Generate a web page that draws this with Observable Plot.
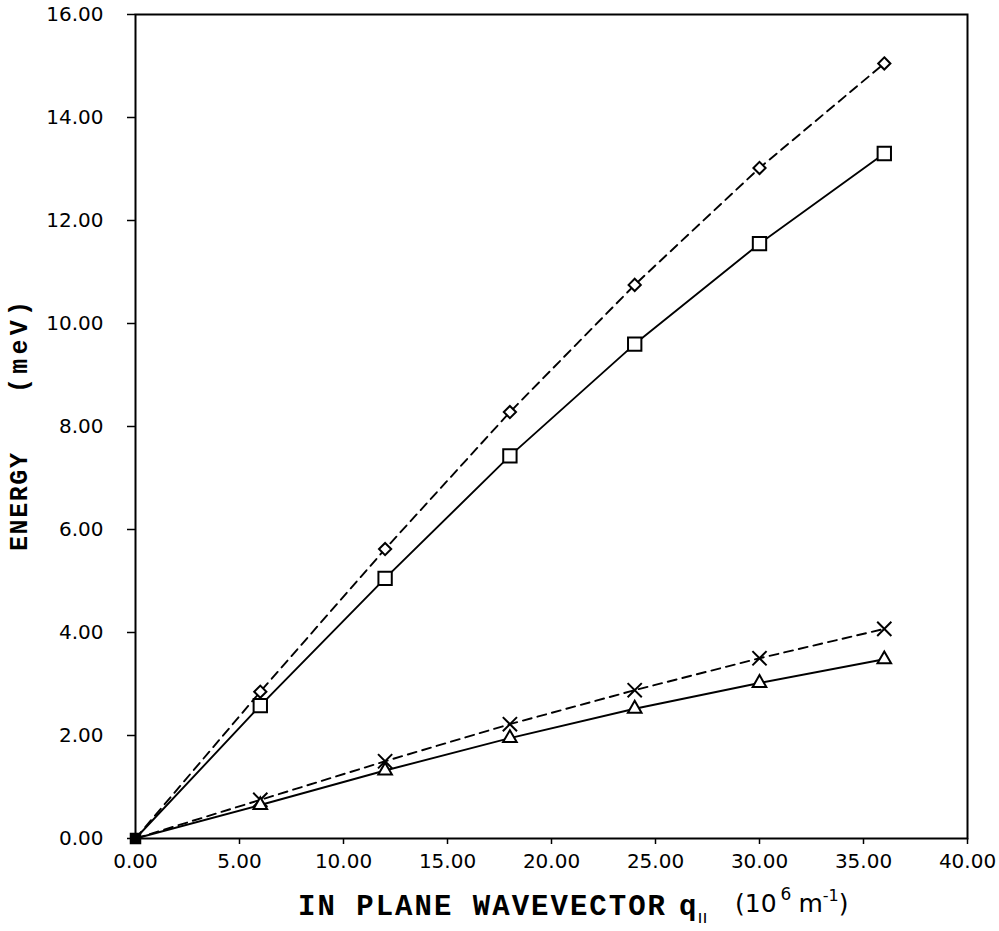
<!DOCTYPE html>
<html><head><meta charset="utf-8">
<script src="https://cdn.jsdelivr.net/npm/d3@7"></script>
<script src="https://cdn.jsdelivr.net/npm/@observablehq/plot@0.6"></script>
<style>body{margin:0;background:#fff}</style>
</head><body><div id="chart"></div>
<script>
const q = [0, 6, 12, 18, 24, 30, 36];
const eDiamond = [0, 2.85, 5.62, 8.28, 10.75, 13.02, 15.05];
const eSquare = [0, 2.58, 5.05, 7.43, 9.6, 11.55, 13.3];
const eCross = [0, 0.75, 1.5, 2.22, 2.88, 3.5, 4.07];
const eTriangle = [0, 0.65, 1.32, 1.95, 2.52, 3.02, 3.48];
const xTicks = [0, 5, 10, 15, 20, 25, 30, 35, 40];
const yTicks = [0, 2, 4, 6, 8, 10, 12, 14, 16];

const series = [
  {name: "diamond", e: eDiamond, dash: "9,6", symbol: "diamond2", r: 5.5},
  {name: "square", e: eSquare, dash: null, symbol: "square2", r: 8.5},
  {name: "cross", e: eCross, dash: "9,6", symbol: "times", r: 6.5},
  {name: "triangle", e: eTriangle, dash: null, symbol: "triangle2", r: 6.5}
];
const rows = s => q.map((x, i) => ({x, y: s.e[i]}));

const marks = [Plot.frame({stroke: "black", strokeWidth: 2})];
for (const s of series) {
  marks.push(Plot.line(rows(s), {x: "x", y: "y", stroke: "black", strokeWidth: 1.9, strokeDasharray: s.dash || undefined}));
  marks.push(Plot.dot(rows(s).slice(1), {x: "x", y: "y", symbol: s.symbol, r: s.r, stroke: "black", strokeWidth: 2, fill: "white"}));
}
marks.push(Plot.dot([{x: 0, y: 0}], {x: "x", y: "y", symbol: "square", r: 6.5, fill: "black"}));

const fmt = d3.format(".2f");
const chart = Plot.plot({
  width: 999, height: 931,
  marginLeft: 135, marginRight: 32, marginTop: 14, marginBottom: 93,
  style: {background: "white", color: "black"},
  x: {domain: [0, 40]},
  y: {domain: [0, 16]},
  marks: [
    Plot.axisX({ticks: xTicks, tickFormat: fmt, tickSize: 6, tickPadding: 9, label: null, strokeWidth: 1.5}),
    Plot.axisY({ticks: yTicks, tickFormat: fmt, tickSize: 8, tickPadding: 24, label: null, strokeWidth: 1.5}),
    ...marks
  ]
});
document.getElementById("chart").appendChild(chart);

const svg = d3.select(chart);
svg.selectAll('g[aria-label$="tick label"]')
  .style("font-family", "'DejaVu Sans', sans-serif").style("font-size", "20px");

const mono = "'Liberation Mono', 'DejaVu Sans Mono', monospace";
svg.append("text").attr("x", 298).attr("y", 915).attr("text-anchor", "start")
  .attr("font-family", mono).attr("font-weight", "bold")
  .attr("font-size", 29).attr("fill", "black")
  .attr("textLength", 367).attr("lengthAdjust", "spacing").text("IN PLANE WAVEVECTOR");
const qt = svg.append("text").attr("x", 679).attr("y", 915).attr("text-anchor", "start")
  .attr("font-family", mono).attr("font-weight", "bold")
  .attr("font-size", 29).attr("fill", "black");
qt.append("tspan").text("q");
qt.append("tspan").attr("font-family", "'DejaVu Sans', sans-serif").attr("font-size", 18)
  .attr("font-weight", "normal").attr("dy", 8).attr("dx", 1).text("ıı");
const ul = svg.append("text").attr("x", 735).attr("y", 912).attr("text-anchor", "start")
  .attr("font-family", "'DejaVu Sans', sans-serif").attr("font-size", 25).attr("fill", "black");
ul.append("tspan").text("(10");
ul.append("tspan").attr("font-size", 17).attr("dy", -12).attr("dx", 4).text("6");
ul.append("tspan").attr("dy", 12).attr("dx", 7).text("m");
ul.append("tspan").attr("font-size", 16).attr("dy", -11).text("-1");
ul.append("tspan").attr("dy", 11).text(")");

svg.append("text").attr("transform", "translate(27,502) rotate(-90)").attr("text-anchor", "middle")
  .attr("font-family", mono).attr("font-weight", "bold")
  .attr("font-size", 25).attr("fill", "black")
  .attr("textLength", 98).attr("lengthAdjust", "spacing").text("ENERGY");
svg.append("text").attr("transform", "translate(27,347) rotate(-90)").attr("text-anchor", "middle")
  .attr("font-family", mono).attr("font-weight", "bold")
  .attr("font-size", 25).attr("fill", "black")
  .attr("textLength", 92).attr("lengthAdjust", "spacing").text("(meV)");
</script></body></html>
